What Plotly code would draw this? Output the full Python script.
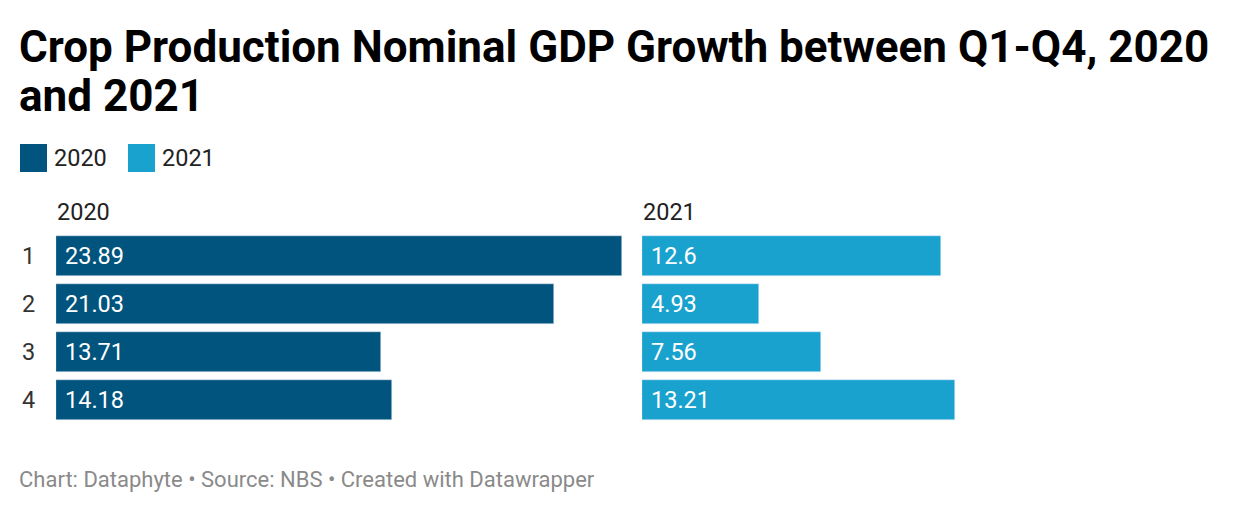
import plotly.graph_objects as go

quarters = [1, 2, 3, 4]
values_2020 = [23.89, 21.03, 13.71, 14.18]
values_2021 = [12.6, 4.93, 7.56, 13.21]
series_names = ["2020", "2021"]
colors = ["#01547d", "#1aa2cf"]

title_lines = ["Crop Production Nominal GDP Growth between Q1-Q4, 2020", "and 2021"]
footer_text = "Chart: Dataphyte • Source: NBS • Created with Datawrapper"

W, H = 1240, 512
xmax = max(values_2020 + values_2021)
FONT = "Roboto"

fig = go.Figure()
fig.add_trace(go.Bar(y=quarters, x=values_2020, orientation="h", marker_color=colors[0],
                     xaxis="x", yaxis="y", showlegend=False, width=0.833, hoverinfo="x"))
fig.add_trace(go.Bar(y=quarters, x=values_2021, orientation="h", marker_color=colors[1],
                     xaxis="x2", yaxis="y2", showlegend=False, width=0.833, hoverinfo="x"))

annotations = []
# value labels inside bars
for q, v in zip(quarters, values_2020):
    annotations.append(dict(x=0, y=q, xref="x", yref="y", text=f"{v:g}", showarrow=False,
                            xanchor="left", xshift=7, font=dict(color="white", size=23.5, family=FONT)))
for q, v in zip(quarters, values_2021):
    annotations.append(dict(x=0, y=q, xref="x2", yref="y2", text=f"{v:g}", showarrow=False,
                            xanchor="left", xshift=7, font=dict(color="white", size=23.5, family=FONT)))
# row labels
for q in quarters:
    annotations.append(dict(x=28 / W, y=q, xref="paper", yref="y", text=str(q), showarrow=False,
                            xanchor="center", font=dict(color="#333333", size=23.5, family=FONT)))
# column headers
for name, px in zip(series_names, [56, 642]):
    annotations.append(dict(x=px / W, y=1 - 212 / H, xref="paper", yref="paper", text=name,
                            showarrow=False, xanchor="left", yanchor="middle", xshift=-1,
                            font=dict(color="#222222", size=23.5, family=FONT)))
# legend
legend_x = [52, 160]
swatch_x = [20, 128]
shapes = []
for name, c, lx, sx in zip(series_names, colors, legend_x, swatch_x):
    shapes.append(dict(type="rect", xref="paper", yref="paper", x0=sx / W, x1=(sx + 27) / W,
                       y0=1 - 172 / H, y1=1 - 144 / H, fillcolor=c, line=dict(width=0)))
    annotations.append(dict(x=lx / W, y=1 - 158 / H, xref="paper", yref="paper", text=name,
                            showarrow=False, xanchor="left", yanchor="middle",
                            font=dict(color="#222222", size=23.5, family=FONT)))
# title
for line, cy in zip(title_lines, [47, 96]):
    annotations.append(dict(x=20 / W, y=1 - cy / H, xref="paper", yref="paper", text=f"<b>{line}</b>",
                            showarrow=False, xanchor="left", yanchor="middle", xshift=-3,
                            font=dict(color="#000000", size=44, family=FONT)))
# footer
annotations.append(dict(x=20 / W, y=1 - 479 / H, xref="paper", yref="paper", text=footer_text,
                        showarrow=False, xanchor="left", yanchor="middle", xshift=-3,
                        font=dict(color="#8a8a8a", size=22, family=FONT)))

ydom = [1 - 424 / H, 1 - 232 / H]
fig.update_layout(
    width=W, height=H,
    margin=dict(l=0, r=0, t=0, b=0),
    paper_bgcolor="white", plot_bgcolor="white",
    xaxis=dict(domain=[56 / W, 622 / W], range=[0, xmax], visible=False, fixedrange=True),
    xaxis2=dict(domain=[642 / W, 1208 / W], range=[0, xmax], visible=False, fixedrange=True),
    yaxis=dict(domain=ydom, range=[4.5, 0.5], visible=False),
    yaxis2=dict(domain=ydom, range=[4.5, 0.5], visible=False, anchor="x2"),
    annotations=annotations,
    shapes=shapes,
    bargap=0,
)
fig.write_html("out.html", config={"displayModeBar": False},
               post_script="document.body.style.margin='0';")
